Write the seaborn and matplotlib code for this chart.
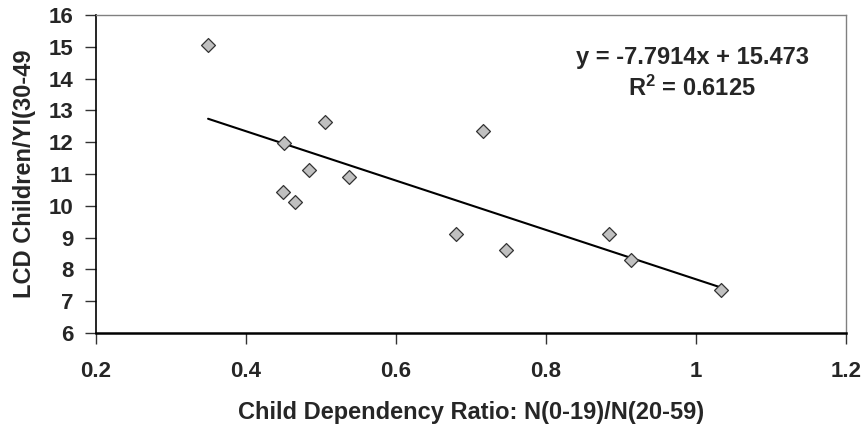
import matplotlib
matplotlib.use("Agg")
import matplotlib.pyplot as plt
import seaborn as sns
import numpy as np
import pandas as pd

# Data
dependency_ratio = [0.350, 0.451, 0.506, 0.485, 0.538, 0.450, 0.466, 0.716, 0.681, 0.747, 0.884, 0.913, 1.034]
lcd_children = [15.06, 11.96, 12.63, 11.13, 10.92, 10.42, 10.13, 12.35, 9.11, 8.61, 9.11, 8.30, 7.35]
x_ticks = [0.2, 0.4, 0.6, 0.8, 1.0, 1.2]
x_tick_labels = ["0.2", "0.4", "0.6", "0.8", "1", "1.2"]
y_ticks = [6, 7, 8, 9, 10, 11, 12, 13, 14, 15, 16]
equation_text = "y = -7.7914x + 15.473"
r2_text = "R$^{2}$ = 0.6125"

df = pd.DataFrame({"x": dependency_ratio, "y": lcd_children})

sns.set_theme(style="white")
plt.rcParams['font.family'] = ['Liberation Sans', 'DejaVu Sans']
plt.rcParams['mathtext.fontset'] = 'custom'
plt.rcParams['mathtext.rm'] = 'Liberation Sans:bold'
plt.rcParams['mathtext.it'] = 'Liberation Sans:bold'
plt.rcParams['mathtext.bf'] = 'Liberation Sans:bold'

FS = 17
TFS = 16

fig = plt.figure(figsize=(8.68, 4.30), dpi=100)
ax = fig.add_axes([95.5 / 868, 1 - 333 / 430, (846 - 95.5) / 868, (333 - 15) / 430])

sns.regplot(data=df, x="x", y="y", ax=ax, ci=None, truncate=True,
            scatter=False, line_kws=dict(color="black", lw=1.5))
sns.scatterplot(data=df, x="x", y="y", ax=ax, marker="D", s=50,
                color="#c0c0c0", edgecolor="#333333", linewidth=0.9, zorder=3)

ax.set_xlim(0.2, 1.2)
ax.set_ylim(6, 16)
ax.set_xticks(x_ticks)
ax.set_xticklabels(x_tick_labels)
ax.set_yticks(y_ticks)
for lab in ax.get_xticklabels() + ax.get_yticklabels():
    lab.set_fontweight("bold")
    lab.set_fontsize(TFS)
ax.tick_params(axis="both", direction="out", length=8, width=1, color="#333333",
               bottom=True, left=True)
ax.tick_params(axis="x", pad=12)
ax.tick_params(axis="y", pad=8)

ax.spines["left"].set_color("black")
ax.spines["left"].set_linewidth(1.2)
ax.spines["bottom"].set_color("black")
ax.spines["bottom"].set_linewidth(1.8)
ax.spines["top"].set_color("#808080")
ax.spines["top"].set_linewidth(1.0)
ax.spines["right"].set_color("#808080")
ax.spines["right"].set_linewidth(1.0)

ax.set_xlabel("Child Dependency Ratio: N(0-19)/N(20-59)", fontsize=FS, fontweight="bold", labelpad=14)
ax.set_ylabel("LCD Children/YI(30-49", fontsize=FS, fontweight="bold", labelpad=9)

ax.text(0.995, 14.66, equation_text, ha="center", va="center", fontsize=FS, fontweight="bold")
ax.text(0.995, 13.68, r2_text, ha="center", va="center", fontsize=FS, fontweight="bold")

fig.savefig("out.png", dpi=100)
